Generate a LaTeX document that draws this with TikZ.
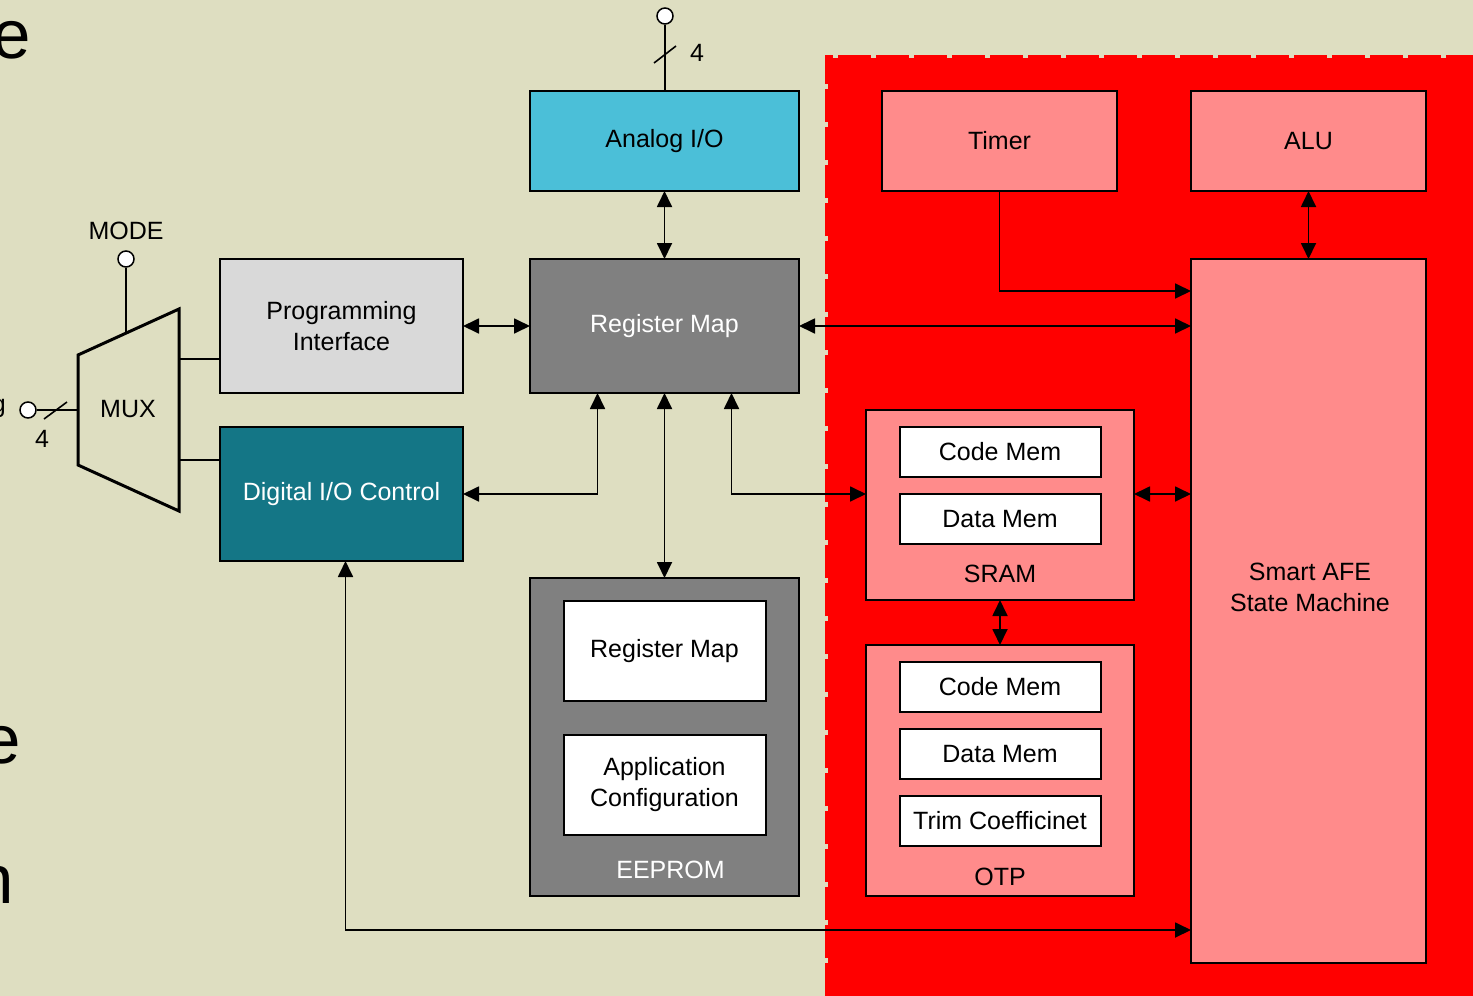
\documentclass[tikz,border=0pt]{standalone}
\usepackage{fontspec}
\setmainfont{Liberation Sans}
\usetikzlibrary{positioning, arrows.meta, calc}
\definecolor{cBack}{HTML}{DEDEC1}
\definecolor{cRed}{HTML}{FF0000}
\definecolor{cPink}{HTML}{FF8B8B}
\definecolor{cAna}{HTML}{4BBFD8}
\definecolor{cDig}{HTML}{147686}
\definecolor{cGray}{HTML}{808080}
\definecolor{cLight}{HTML}{D9D9D9}
\tikzset{
  blk/.style      ={draw=black, line width=2pt, align=center, inner sep=0pt, outer sep=0pt,
                    font=\fontsize{25}{31}\selectfont},
  anabox/.style   ={blk, fill=cAna, minimum width=269pt, minimum height=100pt},
  graybox/.style  ={blk, fill=cGray, text=white, minimum width=269pt, minimum height=134pt},
  lightbox/.style ={blk, fill=cLight, minimum width=243pt, minimum height=134pt},
  digbox/.style   ={blk, fill=cDig, text=white, minimum width=243pt, minimum height=134pt},
  pinkbox/.style  ={blk, fill=cPink, minimum width=235pt, minimum height=100pt},
  membox/.style   ={blk, fill=cPink, minimum width=268pt},
  cell/.style     ={blk, fill=white, minimum width=201pt, minimum height=50pt},
  romcell/.style  ={blk, fill=white, minimum width=202pt, minimum height=100pt},
  lbl/.style      ={font=\fontsize{25}{31}\selectfont, inner sep=0pt, align=center},
  cut/.style      ={font=\fontsize{69}{80}\selectfont, inner sep=0pt, anchor=base west},
  term/.style     ={circle, draw=black, fill=white, line width=1.5pt, minimum size=16pt, inner sep=0pt},
  wire/.style     ={line width=1.6pt},
  flow/.style     ={{Triangle[length=16pt,width=15pt]}-{Triangle[length=16pt,width=15pt]}, line width=1.8pt},
  oneway/.style   ={-{Triangle[length=16pt,width=15pt]}, line width=1.8pt}
}
\begin{document}
\begin{tikzpicture}[x=1pt, y=-1pt]

  % ---- canvas and chip area ----
  \fill[cBack] (0,0) rectangle (1473,996);
  \useasboundingbox (0,0) rectangle (1473,996);
  \fill[cRed] (828,58) rectangle (1473,996);
  \draw[cRed, line width=4pt, dash pattern=on 33pt off 5pt] (827,996) -- (827,57) -- (1473,57);

  % ---- text cut off at the left edge ----
  \node[cut] (cutA) at (-8,58) {e};
  \node[font=\fontsize{25}{31}\selectfont, inner sep=0pt, anchor=base east] (cutB) at (6,412) {g};
  \node[cut] (cutC) at (-18,763) {e};
  \node[cut] (cutD) at (-25,903) {n};

  % ---- left column ----
  \node[lightbox] (progif) at (341.5,326) {Programming\\Interface};
  \node[digbox, below=34pt of progif] (dioc) {Digital I/O Control};

  % ---- MUX ----
  \draw[line width=3pt, line join=miter] (78,355) -- (179,309) -- (179,511) -- (78,465) -- cycle;
  \node[lbl] (mux) at (128,409) {MUX};
  \coordinate (muxTop) at (126,333);
  \coordinate (muxIn)  at (78,410);
  \coordinate (muxO1)  at (179,359);
  \coordinate (muxO2)  at (179,460);

  \node[term] (modePin) at (126,259) {};
  \node[lbl, above=10pt of modePin] (modeLbl) {MODE};
  \draw[wire] (modePin) -- (muxTop);

  \node[term] (inPin) at (28,410) {};
  \draw[wire] (inPin) -- (muxIn);
  \draw[wire] (44,419) -- (67,402);
  \node[lbl] (inW) at (42,439) {4};

  \draw[wire] (muxO1) -- (muxO1 -| progif.west);
  \draw[wire] (muxO2) -- (muxO2 -| dioc.west);

  % ---- middle column ----
  \node[graybox] (regmap) at (664.5,326) {Register Map};
  \node[anabox] (analog) at (664.5,141) {Analog I/O};

  \node[term] (anaPin) at (665,16) {};
  \draw[wire] (anaPin) -- (anaPin |- analog.north);
  \draw[wire] (654,63) -- (676,46);
  \node[lbl] (anaW) at (697,53) {4};

  \node[graybox, minimum height=318pt] (eeprom) at (664.5,737) {};
  \node[romcell, below=23pt of eeprom.north] (eeRegmap) {Register Map};
  \node[romcell, below=34pt of eeRegmap] (eeApp) {Application\\Configuration};
  \node[lbl, text=white, above=17pt of eeprom.south, xshift=6pt] (eeLbl) {EEPROM};

  % ---- chip side ----
  \node[pinkbox] (timer) at (999.5,141) {Timer};
  \node[pinkbox, right=74pt of timer] (alu) {ALU};
  \node[pinkbox, below=68pt of alu, minimum height=704pt] (afe) {};
  \node[lbl] (afeLbl) at (1310,587) {Smart AFE\\State Machine};

  \node[membox, minimum height=190pt] (sram) at (1000,505) {};
  \node[cell, below=17pt of sram.north] (sramCode) {Code Mem};
  \node[cell, below=17pt of sramCode] (sramData) {Data Mem};
  \node[lbl, above=17pt of sram.south] (sramLbl) {SRAM};

  \node[membox, minimum height=251pt] (otp) at (1000,770.5) {};
  \node[cell, below=17pt of otp.north] (otpCode) {Code Mem};
  \node[cell, below=17pt of otpCode] (otpData) {Data Mem};
  \node[cell, below=17pt of otpData] (otpTrim) {Trim Coefficinet};
  \node[lbl, above=10pt of otp.south] (otpLbl) {OTP};

  % ---- connections ----
  \coordinate (timerIn) at (1191,291);
  \coordinate (dioIn)   at (1191,930);

  \draw[flow] (analog) -- (regmap);
  \draw[flow] (progif) -- (regmap);
  \draw[flow] (regmap.east) -- (regmap.east -| afe.west);
  \draw[flow] (regmap) -- (eeprom);
  \draw[flow] ([xshift=-67pt]regmap.south) |- (dioc.east);
  \draw[flow] ([xshift=67pt]regmap.south) |- (sram.west |- dioc.east);
  \draw[flow] (sram.east |- dioc.east) -- (afe.west |- dioc.east);
  \draw[flow] (sram) -- (otp);
  \draw[flow] (alu) -- (afe);
  \draw[oneway] (timer.south) |- (timerIn);
  \draw[flow] ([xshift=4pt]dioc.south) |- (dioIn);

\end{tikzpicture}
\end{document}
